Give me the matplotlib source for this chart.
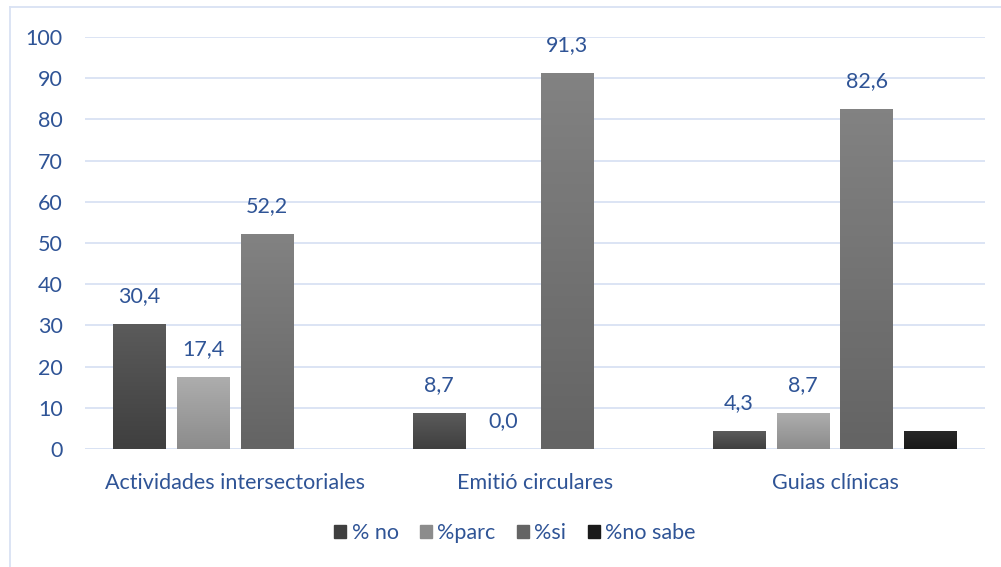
import numpy as np
import matplotlib.pyplot as plt
from matplotlib.lines import Line2D
from matplotlib.colors import LinearSegmentedColormap

plt.rcParams['font.family'] = ['Lato', 'DejaVu Sans']

categories = ['Actividades intersectoriales', 'Emitió circulares', 'Guias clínicas']
series = ['% no', '%parc', '%si', '%no sabe']
pct_no = [30.4, 8.7, 4.3]
pct_parc = [17.4, 0.0, 8.7]
pct_si = [52.2, 91.3, 82.6]
pct_no_sabe = [0.0, 0.0, 4.3]
yticks = [0, 10, 20, 30, 40, 50, 60, 70, 80, 90, 100]

values = [pct_no, pct_parc, pct_si, pct_no_sabe]
# (top colour, bottom colour) of each gradient
grads = [('#5b5b5b', '#3f3f3f'), ('#adadad', '#8c8c8c'),
         ('#828282', '#646464'), ('#272727', '#1a1a1a')]
labelled = [True, True, True, False]
txt = '#2f5496'
grid_c = '#d9e2f3'
fs = 15.5

fig = plt.figure(figsize=(10.01, 5.67), dpi=100)
ax = fig.add_axes([85 / 1001, (567 - 449) / 567, 900 / 1001, 412 / 567])

x = np.arange(len(categories))
w = 53 / 300
step = 64 / 300
offs = (np.arange(4) - 1.5) * step

for i, vals in enumerate(values):
    bars = ax.bar(x + offs[i], vals, w, color=grads[i][1], zorder=2, label=series[i])
    cmap = LinearSegmentedColormap.from_list('g%d' % i, [grads[i][1], grads[i][0]])
    for b in bars:
        h = b.get_height()
        if h <= 0:
            continue
        im = ax.imshow(np.linspace(0, 1, 64).reshape(-1, 1), cmap=cmap, aspect='auto',
                       origin='lower', extent=[b.get_x(), b.get_x() + w, 0, h], zorder=2)
        im.set_clip_path(b)
    if labelled[i]:
        for xx, v in zip(x + offs[i], vals):
            ax.annotate(('%.1f' % v).replace('.', ','), (xx, v), xytext=(0, 13),
                        textcoords='offset points', ha='center', va='bottom',
                        fontsize=fs, color=txt)

ax.set_xlim(-0.5, 2.5)
ax.set_ylim(0, 100)
ax.set_yticks(yticks)
ax.set_xticks(x)
ax.set_xticklabels(categories)
ax.tick_params(axis='both', length=0, labelsize=fs, labelcolor=txt)
ax.tick_params(axis='y', pad=16)
ax.tick_params(axis='x', pad=17)
ax.yaxis.grid(True, color=grid_c, lw=1.3, zorder=0)
ax.set_axisbelow(True)
for s in ax.spines.values():
    s.set_visible(False)
ax.axhline(0, color=grid_c, lw=1.3, zorder=1)

handles = [plt.Rectangle((0, 0), 1, 1, color=g[1]) for g in grads]
fig.legend(handles, series, loc='center', bbox_to_anchor=(515 / 1001, 1 - 533 / 567),
           ncol=4, frameon=False, fontsize=fs, labelcolor=txt,
           handlelength=0.55, handleheight=0.55, handletextpad=0.25, columnspacing=1.0)

fig.add_artist(Line2D([10 / 1001, 10 / 1001], [0, 1 - 7 / 567], transform=fig.transFigure,
                      color=grid_c, lw=1.3))
fig.add_artist(Line2D([10 / 1001, 1], [1 - 7 / 567, 1 - 7 / 567], transform=fig.transFigure,
                      color=grid_c, lw=1.3))

fig.savefig('out.png', dpi=100)
